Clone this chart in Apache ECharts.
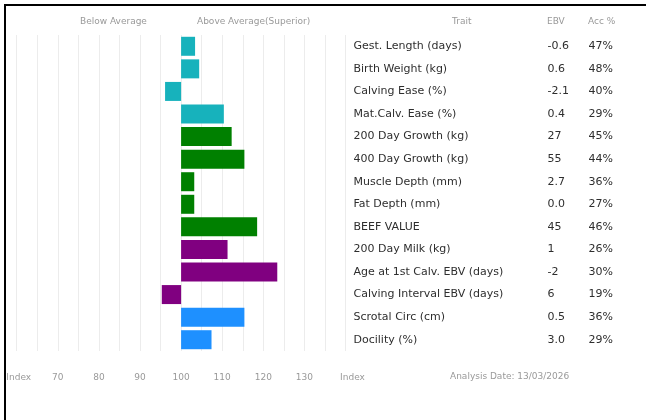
<!DOCTYPE html>
<html>
<head>
<meta charset="utf-8">
<script src="https://cdn.jsdelivr.net/npm/echarts@6/dist/echarts.min.js"></script>
<style>
html,body{margin:0;padding:0;background:#fff;}
#wrap{position:relative;width:646px;height:420px;overflow:hidden;}
#chart{position:absolute;left:0;top:0;width:646px;height:420px;}
#frame{position:absolute;left:4px;top:4px;width:660px;height:430px;border-top:2px solid #000;border-left:2px solid #000;pointer-events:none;}
</style>
</head>
<body>
<div id="wrap"><div id="chart"></div><div id="frame"></div></div>
<script>
// ---- data ----
var traits = ['Gest. Length (days)','Birth Weight (kg)','Calving Ease (%)','Mat.Calv. Ease (%)','200 Day Growth (kg)','400 Day Growth (kg)','Muscle Depth (mm)','Fat Depth (mm)','BEEF VALUE','200 Day Milk (kg)','Age at 1st Calv. EBV (days)','Calving Interval EBV (days)','Scrotal Circ (cm)','Docility (%)'];
var ebv = ['-0.6','0.6','-2.1','0.4','27','55','2.7','0.0','45','1','-2','6','0.5','3.0'];
var acc = ['47%','48%','40%','29%','45%','44%','36%','27%','46%','26%','30%','19%','36%','29%'];
var indexValues = [103.4,104.4,96.1,110.4,112.3,115.4,103.2,103.2,118.5,111.3,123.4,95.3,115.4,107.4];
var groups = ['calving','calving','calving','calving','growth','growth','growth','growth','growth','maternal','maternal','maternal','other','other'];
var xTickValues = [60,70,80,90,100,110,120,130,140];
var baseIndex = 100;
var analysisDate = 'Analysis Date: 13/03/2026';

// ---- styles ----
var groupColors = {calving:'#17b2bc', growth:'#008000', maternal:'#800080', other:'#1e90ff'};
var font = 'DejaVu Sans';

var chart = echarts.init(document.getElementById('chart'));
var diffs = indexValues.map(function(v){return +(v-baseIndex).toFixed(2);});

chart.setOption({
  animation:false,
  textStyle:{fontFamily:font},
  grid:{left:16.7, right:300.5, top:35, height:316, containLabel:false},
  xAxis:{
    type:'value', min:-40, max:40, interval:5,
    axisLine:{show:false}, axisTick:{show:false},
    splitLine:{show:true, lineStyle:{color:'#ececec', width:1}},
    axisLabel:{
      margin:22, color:'#999', fontSize:9, fontFamily:font,
      formatter:function(v){
        var iv = v + baseIndex;
        if (xTickValues.indexOf(iv) < 0) return '';
        if (iv === xTickValues[0]) return '{l|Index}';
        if (iv === xTickValues[xTickValues.length-1]) return '{r|Index}';
        return String(iv);
      },
      rich:{
        l:{padding:[0,0,0,4], color:'#999', fontSize:9, fontFamily:font},
        r:{padding:[0,0,0,14], color:'#999', fontSize:9, fontFamily:font}
      }
    }
  },
  yAxis:{
    type:'category', data:traits, inverse:true, position:'right',
    axisLine:{show:false}, axisTick:{show:false}, splitLine:{show:false},
    axisLabel:{
      margin:8, align:'left',
      formatter:function(v,i){ return '{t|'+v+'}{e|'+ebv[i]+'}{a|'+acc[i]+'}'; },
      rich:{
        t:{width:194, fontSize:11, color:'#2e2e2e', fontFamily:font},
        e:{width:41, fontSize:11, color:'#2e2e2e', fontFamily:font},
        a:{width:40, fontSize:11, color:'#2e2e2e', fontFamily:font}
      }
    }
  },
  series:[{
    type:'bar', barWidth:19,
    data:diffs.map(function(d,i){ return {value:d, itemStyle:{color:groupColors[groups[i]]}}; })
  }],
  graphic:[
    {type:'text', left:80, top:17, style:{text:'Below Average', fill:'#999', fontSize:9, fontFamily:font}},
    {type:'text', left:197, top:17, style:{text:'Above Average(Superior)', fill:'#999', fontSize:9, fontFamily:font}},
    {type:'text', left:452, top:17, style:{text:'Trait', fill:'#999', fontSize:9, fontFamily:font}},
    {type:'text', left:547, top:17, style:{text:'EBV', fill:'#999', fontSize:9, fontFamily:font}},
    {type:'text', left:588, top:17, style:{text:'Acc %', fill:'#999', fontSize:9, fontFamily:font}},
    {type:'text', left:450, top:372, style:{text:analysisDate, fill:'#999', fontSize:9, fontFamily:font}}
  ]
});
</script>
</body>
</html>
